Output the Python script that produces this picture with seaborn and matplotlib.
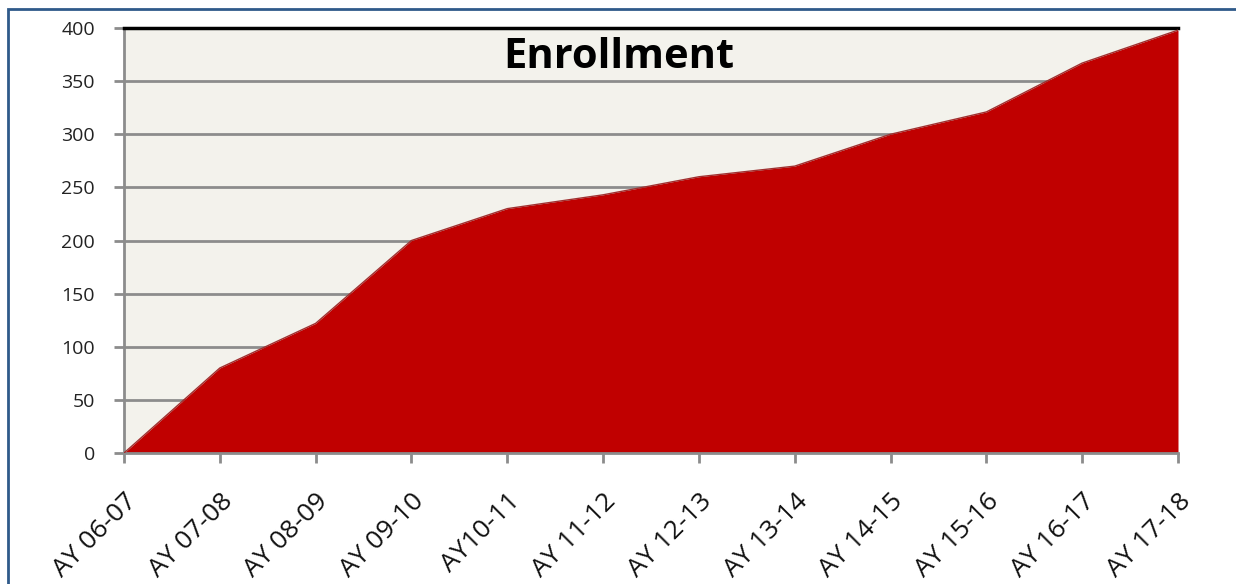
"""Enrollment area chart"""

import matplotlib

matplotlib.use("Agg")
import matplotlib.pyplot as plt
import seaborn as sns
import pandas as pd
import numpy as np
from matplotlib.patches import Rectangle

# 数据
years = [
    "AY 06-07", "AY 07-08", "AY 08-09", "AY 09-10", "AY10-11", "AY 11-12",
    "AY 12-13", "AY 13-14", "AY 14-15", "AY 15-16", "AY 16-17", "AY 17-18",
]
enrollment = [0, 80, 122, 200, 230, 243, 260, 270, 300, 321, 367, 398]
y_ticks = [0, 50, 100, 150, 200, 250, 300, 350, 400]

sns.set_style("white")
plt.rcParams["font.family"] = ["Open Sans", "DejaVu Sans"]

df = pd.DataFrame({"pos": np.arange(len(years)), "year": years, "value": enrollment})

fig = plt.figure(figsize=(12.36, 5.84), dpi=100)
ax = fig.add_axes([124 / 1236, 1 - 453 / 584, (1178 - 124) / 1236, (453 - 28) / 584])
ax.set_facecolor("#F3F2EC")

# 网格线
for yv in y_ticks[1:-1]:
    ax.axhline(yv, color="#8C8C8C", linewidth=2, zorder=1)

ax.fill_between(df["pos"], df["value"], 0, color="#C00000", linewidth=0, zorder=2)
sns.lineplot(data=df, x="pos", y="value", color="#A03030", linewidth=1, ax=ax, zorder=3)

ax.set_xlim(0, len(years) - 1)
ax.set_ylim(0, 400)
ax.set_yticks(y_ticks)
ax.set_yticklabels([str(v) for v in y_ticks], fontsize=14, color="#222222")
ax.set_xticks(df["pos"])
ax.set_xticklabels(years, rotation=45, ha="right", rotation_mode="anchor",
                   fontsize=19, color="#111111")
ax.set_xlabel("")
ax.set_ylabel("")

ax.tick_params(axis="both", which="both", length=7, width=2, color="#8C8C8C",
               direction="out", left=True, bottom=True)
ax.tick_params(axis="y", pad=14)
ax.tick_params(axis="x", pad=19)

for side in ["left", "bottom"]:
    ax.spines[side].set_color("#8C8C8C")
    ax.spines[side].set_linewidth(2)
ax.spines["top"].set_color("black")
ax.spines["top"].set_linewidth(2.5)
ax.spines["right"].set_visible(False)

fig.text(619 / 1236, 1 - 58 / 584, "Enrollment", ha="center", va="center",
         fontsize=30, fontweight="bold", color="black", zorder=5)

# 外框
fig.patches.append(Rectangle((8 / 1236, -0.05), 1.1, 1 - 9 / 584 + 0.05,
                             transform=fig.transFigure, fill=False,
                             edgecolor="#2F5A8A", linewidth=2))

fig.savefig("out.png", dpi=100, facecolor="white")
